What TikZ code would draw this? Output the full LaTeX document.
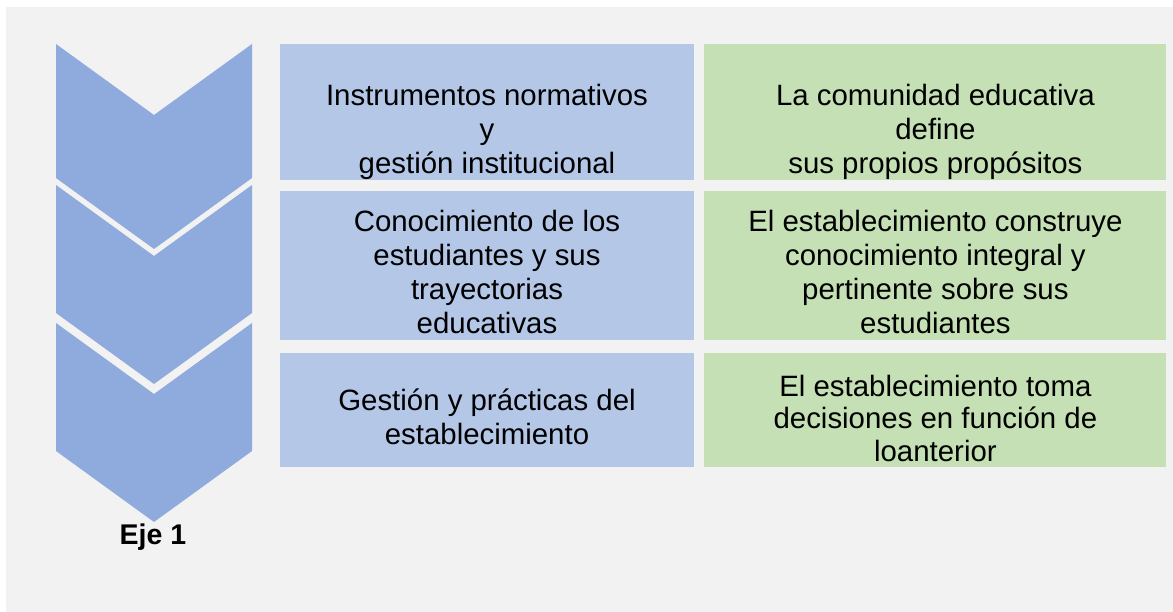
\documentclass[tikz,border=0pt]{standalone}
\usepackage{fontspec}
\setmainfont{Liberation Sans}
\usepackage{xcolor}
\usetikzlibrary{positioning}
\definecolor{chevblue}{HTML}{8FAADC}
\definecolor{boxblue}{HTML}{B4C7E7}
\definecolor{boxgreen}{HTML}{C5E0B4}
\definecolor{bggray}{HTML}{F2F2F2}

\begin{document}
\begin{tikzpicture}[x=1pt,y=-1pt,
    cell/.style={minimum height=#1, inner sep=0pt},
    bluecell/.style={cell=#1, fill=boxblue, minimum width=414pt},
    greencell/.style={cell=#1, fill=boxgreen, minimum width=462pt},
    txt/.style={align=center, inner sep=0pt, font=\fontsize{29.4}{34}\selectfont},
    chev/.style={fill=chevblue}]

    % Background
    \fill[white] (0,0) rectangle (1173,612);
    \fill[bggray] (6,7) rectangle (1173,612);
    \useasboundingbox (0,0) rectangle (1173,612);

    % Chevrons
    \foreach \ya/\yb in {44/178, 185/313, 323/451}
    {
        \fill[chev] (56,\ya) -- (154,\ya+71) -- (252,\ya) -- (252,\yb) -- (154,\yb+71) -- (56,\yb) -- cycle;
    }
    \node[font=\bfseries\fontsize{28.5}{34}\selectfont, inner sep=0pt] (eje) at (153,537) {Eje 1};

    % Cells
    \node[bluecell=136pt] (b1) at (487,112) {};
    \node[greencell=136pt, right=10pt of b1] (g1) {};
    \node[bluecell=149pt, below=11pt of b1] (b2) {};
    \node[greencell=149pt, right=10pt of b2] (g2) {};
    \node[bluecell=114pt, below=12pt of b2] (b3) {};
    \node[greencell=114pt, right=10pt of b3] (g3) {};

    % Texts
    \node[txt] (t1) at ([yshift=-19.5pt]b1.center) {Instrumentos normativos\\ y\\ gestión institucional};
    \node[txt] (u1) at ([yshift=-19.5pt]g1.center) {La comunidad educativa\\ define\\ sus propios propósitos};
    \node[txt] (t2) at ([yshift=-5.8pt]b2.center) {Conocimiento de los\\ estudiantes y sus\\ trayectorias\\ educativas};
    \node[txt] (u2) at ([yshift=-5.8pt]g2.center) {El establecimiento construye\\ conocimiento integral y\\ pertinente sobre sus\\ estudiantes};
    \node[txt] (t3) at ([yshift=-6.8pt]b3.center) {Gestión y prácticas del\\ establecimiento};
    \node[txt, font=\fontsize{29.4}{32.5}\selectfont] (u3) at ([yshift=-8.5pt]g3.center) {El establecimiento toma\\ decisiones en función de\\ loanterior};
\end{tikzpicture}
\end{document}
